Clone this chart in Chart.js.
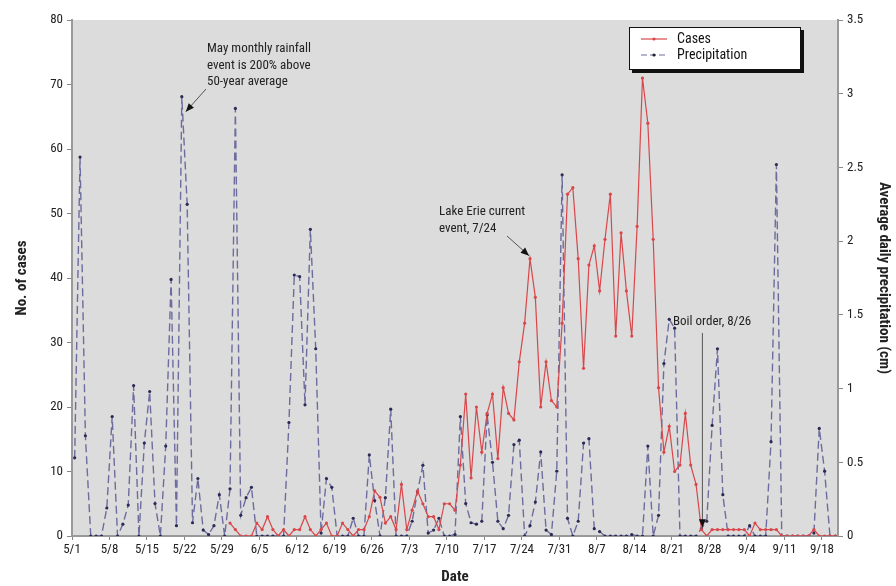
<!DOCTYPE html>
<html lang="en">
<head>
<meta charset="UTF-8">
<title>Cases and precipitation</title>
<script src="https://cdn.jsdelivr.net/npm/chart.js@4.4.1/dist/chart.umd.min.js"></script>
<style>
  body { margin: 0; background: #fff; }
  #wrap { width: 896px; height: 586px; }
</style>
</head>
<body>
<div id="wrap"><canvas id="chart" width="896" height="586"></canvas></div>
<script>
// daily values, 5/1 .. 9/20 (143 days)
const tickLabels = ['5/1', '5/8', '5/15', '5/22', '5/29', '6/5', '6/12', '6/19', '6/26', '7/3', '7/10',
  '7/17', '7/24', '7/31', '8/7', '8/14', '8/21', '8/28', '9/4', '9/11', '9/18'];

// no. of cases (starts 5/30)
const cases = [
  null, null, null, null, null, null, null, null, null, null,
  null, null, null, null, null, null, null, null, null, null,
  null, null, null, null, null, null, null, null, null, 2,
  1, 0, 0, 0, 2, 1, 3, 1, 0, 1,
  0, 1, 1, 3, 1, 0, 1, 2, 0, 0,
  2, 1, 0, 1, 1, 3, 7, 6, 2, 3,
  1, 8, 1, 4, 7, 5, 3, 3, 1, 5,
  5, 4, 11, 22, 9, 20, 13, 19, 22, 12,
  23, 19, 18, 27, 33, 43, 37, 20, 27, 21,
  20, 33, 53, 54, 43, 26, 42, 45, 38, 46,
  53, 31, 47, 38, 31, 48, 71, 64, 46, 23,
  13, 17, 10, 11, 19, 11, 8, 1, 0, 1,
  1, 1, 1, 1, 1, 1, 0, 2, 1, 1,
  1, 1, 0, 0, 0, 0, 0, 0, 1, 0,
  0, 0, 0
];

// average daily precipitation (cm)
const precip = [
  0.53, 2.57, 0.68, 0, 0, 0, 0.19, 0.81, 0, 0.08,
  0.21, 1.02, 0, 0.63, 0.98, 0.22, 0, 0.61, 1.74, 0.07,
  2.98, 2.25, 0.09, 0.39, 0.04, 0.01, 0.07, 0.28, 0, 0.32,
  2.90, 0.14, 0.26, 0.33, 0, 0, 0, 0, 0, 0,
  0.77, 1.77, 1.76, 0.89, 2.08, 1.27, 0.02, 0.39, 0.33, 0,
  0, 0, 0.12, 0, 0, 0.55, 0.24, 0, 0.26, 0.86,
  0, 0, 0, 0.1, 0.3, 0.48, 0.02, 0.04, 0.12, 0,
  0, 0.01, 0.81, 0.22, 0.09, 0.08, 0.1, 0.82, 0.5, 0.1,
  0.05, 0.14, 0.62, 0.65, 0, 0.07, 0.23, 0.57, 0.04, 0.01,
  0.44, 2.45, 0.12, 0, 0.1, 0.63, 0.66, 0.05, 0.03, 0,
  0, 0, 0, 0, 0.01, 0, 0, 0.61, 0, 0.14,
  1.17, 1.47, 1.41, 0, 0, 0, 0, 0.05, 0.1, 0.75,
  1.27, 0.28, 0, 0, 0, 0, 0.07, 0, 0, 0,
  0.64, 2.52, 0, 0, 0, 0, 0, 0, 0.02, 0.73,
  0.44, 0, 0
];

const FONT = "'Liberation Sans Narrow', 'Roboto Condensed', 'Liberation Sans', Arial, sans-serif";
const RED = '#d9474b';
const BLUE = '#6c6c9e';

// points sit in the middle of each day
const toXY = arr => arr.map((v, i) => ({ x: i + 0.5, y: v }));

function arrow(ctx, x1, y1, x2, y2) {
  const a = Math.atan2(y2 - y1, x2 - x1);
  ctx.beginPath();
  ctx.moveTo(x1, y1);
  ctx.lineTo(x2, y2);
  ctx.stroke();
  ctx.beginPath();
  ctx.moveTo(x2, y2);
  ctx.lineTo(x2 - 9 * Math.cos(a - 0.4), y2 - 9 * Math.sin(a - 0.4));
  ctx.lineTo(x2 - 9 * Math.cos(a + 0.4), y2 - 9 * Math.sin(a + 0.4));
  ctx.closePath();
  ctx.fill();
}

const extras = {
  id: 'extras',
  beforeDraw(chart) {
    const { ctx, chartArea: a } = chart;
    ctx.save();
    ctx.fillStyle = '#dcdcdc';
    ctx.fillRect(a.left, a.top, a.right - a.left, a.bottom - a.top);
    ctx.restore();
  },
  afterDraw(chart) {
    const { ctx, scales } = chart;
    const x = scales.x, yl = scales.y, yr = scales.y1;
    ctx.save();
    ctx.font = '13px ' + FONT;
    ctx.fillStyle = '#222';
    ctx.strokeStyle = '#555';
    ctx.lineWidth = 1;
    ctx.textBaseline = 'middle';

    // rainfall note
    const px = x.getPixelForValue(20.5), py = yr.getPixelForValue(precip[20]);
    ctx.fillText('May monthly rainfall', 207, 49);
    ctx.fillText('event is 200% above', 207, 66);
    ctx.fillText('50-year average', 207, 82);
    ctx.fillStyle = '#111';
    arrow(ctx, 206, 89, px + 4, py + 15);

    // lake erie note
    const lx = x.getPixelForValue(85.5), ly = yl.getPixelForValue(cases[85]);
    ctx.fillStyle = '#222';
    ctx.fillText('Lake Erie current', 439, 212);
    ctx.fillText('event, 7/24', 439, 229);
    ctx.fillStyle = '#111';
    arrow(ctx, 507, 236, lx - 1, ly - 3);

    // boil order
    const bx = x.getPixelForValue(117.5), by = yl.getPixelForValue(cases[117]);
    ctx.fillStyle = '#222';
    ctx.fillText('Boil order, 8/26', 673, 322);
    ctx.fillStyle = '#111';
    arrow(ctx, bx + 1, 333, bx + 1, by - 2);

    // legend box
    ctx.fillStyle = '#111';
    ctx.fillRect(632, 30, 172, 43);
    ctx.fillStyle = '#fff';
    ctx.fillRect(629, 27, 172, 43);
    ctx.strokeStyle = '#111';
    ctx.lineWidth = 1;
    ctx.strokeRect(629.5, 27.5, 171, 42);
    const rows = [[RED, [], 39, 'Cases'], [BLUE, [6, 3], 55, 'Precipitation']];
    rows.forEach(([c, dash, yy, label]) => {
      ctx.strokeStyle = c;
      ctx.setLineDash(dash);
      ctx.lineWidth = 1.2;
      ctx.beginPath();
      ctx.moveTo(641, yy);
      ctx.lineTo(667, yy);
      ctx.stroke();
      ctx.setLineDash([]);
      ctx.fillStyle = c === RED ? RED : '#223';
      ctx.beginPath();
      ctx.arc(654, yy, 1.6, 0, Math.PI * 2);
      ctx.fill();
      ctx.fillStyle = '#111';
      ctx.font = '14px ' + FONT;
      ctx.fillText(label, 677, yy);
    });
    ctx.restore();
  }
};

new Chart(document.getElementById('chart'), {
  type: 'line',
  data: {
    datasets: [
      {
        label: 'Cases',
        data: toXY(cases),
        yAxisID: 'y',
        borderColor: RED,
        backgroundColor: RED,
        borderWidth: 1.2,
        pointRadius: 1.6,
        pointBorderWidth: 0,
        spanGaps: false,
        tension: 0
      },
      {
        label: 'Precipitation',
        data: toXY(precip),
        yAxisID: 'y1',
        borderColor: BLUE,
        backgroundColor: '#2a2a55',
        borderWidth: 1.4,
        borderDash: [8, 4],
        pointRadius: 1.6,
        pointBorderWidth: 0,
        tension: 0
      }
    ]
  },
  options: {
    responsive: false,
    animation: false,
    devicePixelRatio: 1,
    layout: { padding: { top: 20, left: 0, right: 0, bottom: 0 } },
    plugins: { legend: { display: false }, tooltip: { enabled: false } },
    scales: {
      x: {
        type: 'linear',
        min: 0,
        max: 143,
        afterFit: s => { s.height = 50; },
        ticks: {
          stepSize: 7,
          includeBounds: false,
          autoSkip: false,
          maxRotation: 0,
          padding: 2,
          color: '#222',
          font: { family: FONT, size: 13 },
          callback: v => tickLabels[v / 7]
        },
        grid: { drawOnChartArea: false, drawTicks: true, tickLength: 4, color: '#888' },
        border: { color: '#999', width: 2 },
        title: { display: true, text: 'Date', color: '#222', padding: 0, font: { family: FONT, size: 15, weight: 'bold' } }
      },
      y: {
        position: 'left',
        min: 0,
        max: 80,
        afterFit: s => { s.width = 72; },
        ticks: { stepSize: 10, color: '#222', padding: 4, font: { family: FONT, size: 13 } },
        grid: { drawOnChartArea: false, drawTicks: true, tickLength: 5, color: '#888' },
        border: { color: '#999', width: 2 },
        title: { display: true, text: 'No. of cases', color: '#222', padding: { top: 13, bottom: 0 }, font: { family: FONT, size: 15, weight: 'bold' } }
      },
      y1: {
        position: 'right',
        min: 0,
        max: 3.5,
        afterFit: s => { s.width = 58; },
        ticks: { stepSize: 0.5, color: '#222', padding: 4, font: { family: FONT, size: 13 }, callback: v => String(v) },
        grid: { drawOnChartArea: false, drawTicks: true, tickLength: 5, color: '#888' },
        border: { color: '#999', width: 2 },
        title: { display: true, text: 'Average daily precipitation (cm)', color: '#222', padding: { top: 3, bottom: 0 }, font: { family: FONT, size: 15, weight: 'bold' } }
      }
    }
  },
  plugins: [extras]
});
</script>
</body>
</html>
